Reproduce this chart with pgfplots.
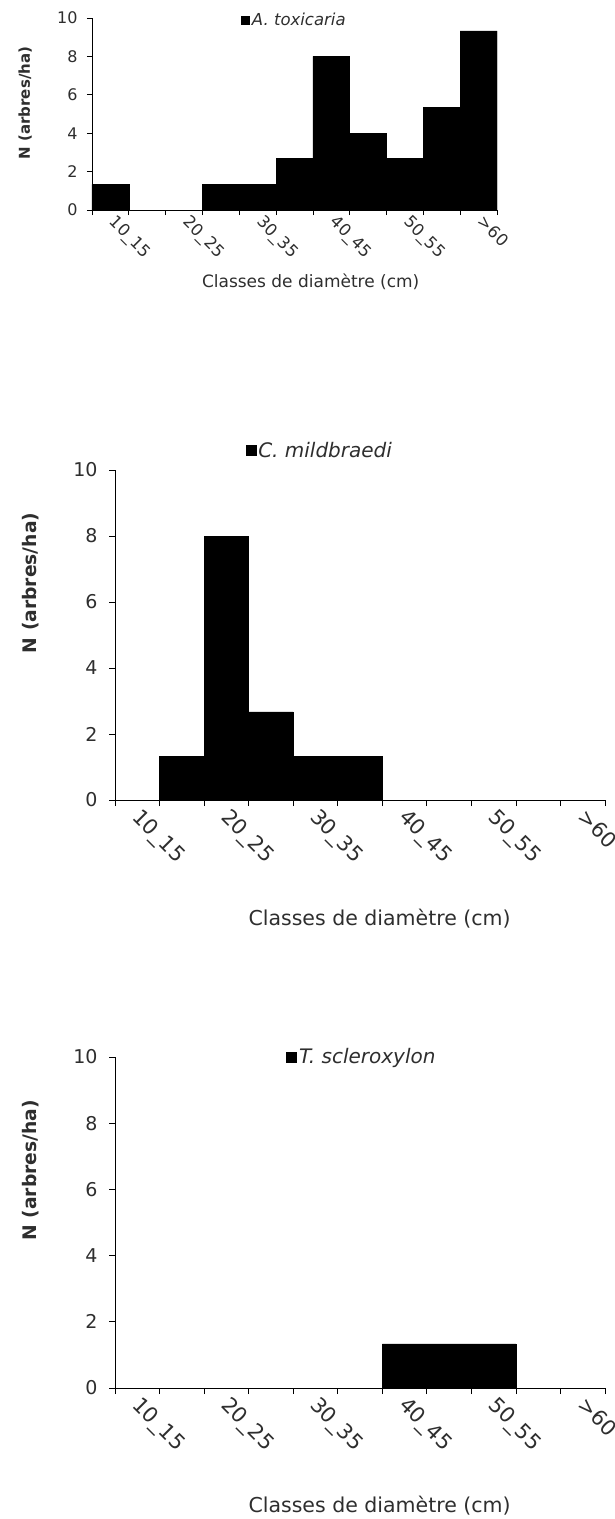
\documentclass[border=0pt]{standalone}
\usepackage{pgfplots}
\pgfplotsset{compat=1.18}
\usepackage{fontspec}
\setmainfont{DejaVu Sans}

\colorlet{labelgray}{black!82}

\pgfplotsset{
  histo/.style={
    scale only axis,
    xmin=0, xmax=11, ymin=0, ymax=10,
    ytick={0,2,...,10},
    axis lines*=left,
    axis line style={black, line width=0.8pt},
    xtick={0,...,11}, xticklabels={},
    tick align=outside,
    tick style={black, line width=0.8pt},
    /pgf/number format/assume math mode=true,
    tick label style={text=labelgray},
    extra x ticks={0.5,2.5,4.5,6.5,8.5,10.5},
    extra x tick labels={10\_15,20\_25,30\_35,40\_45,50\_55,>60},
    legend style={draw=none, fill=none, inner sep=1pt,
      legend cell align=left, text=labelgray},
    ylabel={\bfseries N (arbres/ha)},
    xlabel={Classes de diamètre (cm)},
    label style={text=labelgray},
  },
  bars/.style={ybar interval, fill=black, draw=black, line width=0.6pt},
  % rotated class labels, shifted on the page before turning
  classlabels/.style n args={3}{
    extra x tick style={major tick length=0pt,
      tick label style={font=\fontsize{#1}{#1}\selectfont,
        xshift=#2, yshift=#3, rotate=-45, anchor=north west, inner sep=0pt}}},
}

\begin{document}
\begin{tikzpicture}
\useasboundingbox (0pt,0pt) rectangle (614pt,-1519pt);

% A. toxicaria
\begin{axis}[histo,
  at={(92pt,-210pt)}, anchor=south west,
  width=405pt, height=192pt,
  major tick length=5pt,
  tick label style={font=\fontsize{16}{18}\selectfont},
  yticklabel style={xshift=-6pt},
  classlabels={16.5}{7pt}{-4pt},
  ylabel style={font=\fontsize{15}{17}\selectfont, at={(axis description cs:-0.165,0.557)}, anchor=center},
  xlabel style={font=\fontsize{17}{19}\selectfont, at={(axis description cs:0.54,-0.375)}, anchor=center},
  legend style={font=\fontsize{16.5}{18}\selectfont, at={(axis description cs:0.5,0.99)}, anchor=center},
  legend image code/.code={\fill[black] (0pt,-4pt) rectangle (8pt,4pt);},
]
\addplot[bars] coordinates {
  (0,1.33) (1,0) (2,0) (3,1.33) (4,1.33) (5,2.67)
  (6,8) (7,4) (8,2.67) (9,5.33) (10,9.33) (11,9.33)};
\addlegendentry{\itshape A. toxicaria}
\end{axis}

% C. mildbraedi
\begin{axis}[histo,
  at={(115pt,-800pt)}, anchor=south west,
  width=490pt, height=330pt,
  major tick length=6pt,
  tick label style={font=\fontsize{19}{21}\selectfont},
  yticklabel style={xshift=-8pt},
  classlabels={21}{5pt}{-7pt},
  ylabel style={font=\fontsize{18.7}{20}\selectfont, at={(axis description cs:-0.173,0.658)}, anchor=center},
  xlabel style={font=\fontsize{20.5}{22}\selectfont, at={(axis description cs:0.54,-0.358)}, anchor=center},
  legend style={font=\fontsize{20}{22}\selectfont, at={(axis description cs:0.418,1.06)}, anchor=center},
  legend image code/.code={\fill[black] (0pt,-5pt) rectangle (10pt,5pt);},
]
\addplot[bars] coordinates {
  (0,0) (1,1.33) (2,8) (3,2.67) (4,1.33) (5,1.33)
  (6,0) (7,0) (8,0) (9,0) (10,0) (11,0)};
\addlegendentry{\itshape C. mildbraedi}
\end{axis}

% T. scleroxylon
\begin{axis}[histo,
  at={(115pt,-1388pt)}, anchor=south west,
  width=490pt, height=331pt,
  major tick length=6pt,
  tick label style={font=\fontsize{19}{21}\selectfont},
  yticklabel style={xshift=-8pt},
  classlabels={21}{5pt}{-7pt},
  ylabel style={font=\fontsize{18.7}{20}\selectfont, at={(axis description cs:-0.173,0.658)}, anchor=center},
  xlabel style={font=\fontsize{20.5}{22}\selectfont, at={(axis description cs:0.54,-0.356)}, anchor=center},
  legend style={font=\fontsize{20}{22}\selectfont, at={(axis description cs:0.504,1.0)}, anchor=center},
  legend image code/.code={\fill[black] (0pt,-5pt) rectangle (10pt,5pt);},
]
\addplot[bars] coordinates {
  (0,0) (1,0) (2,0) (3,0) (4,0) (5,0)
  (6,1.33) (7,1.33) (8,1.33) (9,0) (10,0) (11,0)};
\addlegendentry{\itshape T. scleroxylon}
\end{axis}
\end{tikzpicture}
\end{document}
